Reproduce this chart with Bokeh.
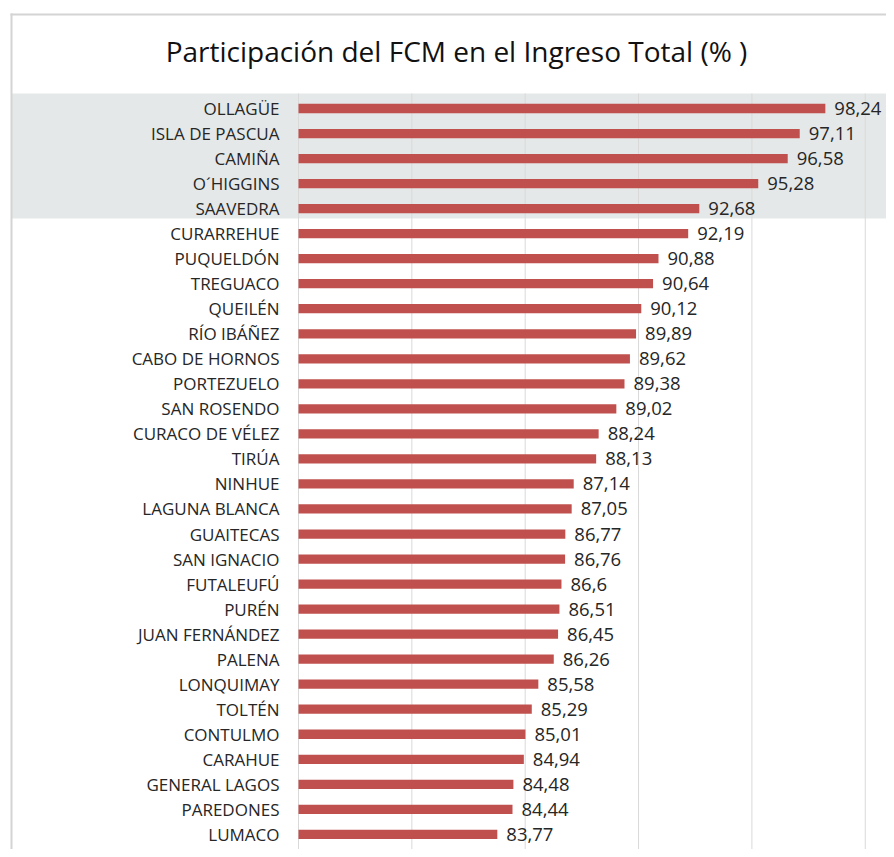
from bokeh.plotting import figure
from bokeh.models import Range1d, BoxAnnotation, Label, ColumnDataSource, Grid
from bokeh.core.properties import value
from bokeh.embed import file_html
from bokeh.resources import INLINE

# ---------------- data ----------------
title_text = "Participación del FCM en el Ingreso Total (% )"
comunas = ["OLLAGÜE", "ISLA DE PASCUA", "CAMIÑA", "O´HIGGINS", "SAAVEDRA",
           "CURARREHUE", "PUQUELDÓN", "TREGUACO", "QUEILÉN", "RÍO IBÁÑEZ",
           "CABO DE HORNOS", "PORTEZUELO", "SAN ROSENDO", "CURACO DE VÉLEZ", "TIRÚA",
           "NINHUE", "LAGUNA BLANCA", "GUAITECAS", "SAN IGNACIO", "FUTALEUFÚ",
           "PURÉN", "JUAN FERNÁNDEZ", "PALENA", "LONQUIMAY", "TOLTÉN",
           "CONTULMO", "CARAHUE", "GENERAL LAGOS", "PAREDONES", "LUMACO"]
participacion = [98.24, 97.11, 96.58, 95.28, 92.68,
                 92.19, 90.88, 90.64, 90.12, 89.89,
                 89.62, 89.38, 89.02, 88.24, 88.13,
                 87.14, 87.05, 86.77, 86.76, 86.6,
                 86.51, 86.45, 86.26, 85.58, 85.29,
                 85.01, 84.94, 84.48, 84.44, 83.77]
grid_ticks = [75, 80, 85, 90, 95, 100]
x_base = 75
highlight_rows = 5

# ---------------- geometry helpers (picture pixel -> data) ----------------
W, H = 886, 849
PX_PER_UNIT = 22.67
BASE_PX = 298
ROW0_PX = 108
ROW_PX = 25.03

def px_x(px):
    return x_base + (px - BASE_PX) / PX_PER_UNIT

def px_y(py):
    return (py - ROW0_PX) / ROW_PX

rows = list(range(len(comunas)))
labels = [f"{v:g}".replace(".", ",") for v in participacion]
src = ColumnDataSource(dict(y=rows, v=participacion, name=comunas, lab=labels))

p = figure(width=W, height=H,
           x_range=Range1d(px_x(0), px_x(W)),
           y_range=Range1d(px_y(H), px_y(0)),
           x_axis_location=None, y_axis_location=None,
           output_backend="svg", toolbar_location=None,
           min_border=0, outline_line_color=None,
           background_fill_color="white", border_fill_color="white")

# remove default grids
p.center = [r for r in p.center if not isinstance(r, Grid)]

# shaded highlight band (lowest layer)
p.add_layout(BoxAnnotation(left=px_x(11), top=px_y(93),
                           bottom=(highlight_rows - 1) + (218 - 208) / ROW_PX,
                           fill_color="#e5e8e8", fill_alpha=1, line_color=None,
                           level="image"))

# vertical gridlines at the tick values, from the top of the plot area down
p.segment(x0=grid_ticks, x1=grid_ticks, y0=px_y(93), y1=px_y(H + 5),
          line_color="#d9d9d9", line_width=1, level="underlay")

# chart border (top and left)
p.add_layout(BoxAnnotation(left=px_x(10), right=px_x(12), top=px_y(13),
                           fill_color="#d4d4d4", fill_alpha=1, line_color=None))
p.add_layout(BoxAnnotation(left=px_x(10), top=px_y(13), bottom=px_y(15),
                           fill_color="#d4d4d4", fill_alpha=1, line_color=None))

p.hbar(y="y", left=x_base, right="v", height=0.37, source=src,
       fill_color="#c0504d", line_color=None)

p.text(x=x_base, y="y", text="name", source=src, x_offset=-19,
       text_align="right", text_baseline="middle",
       text_font=value("Open Sans"), text_font_size="17px", text_color="#262626")

p.text(x="v", y="y", text="lab", source=src, x_offset=9,
       text_align="left", text_baseline="middle",
       text_font=value("Open Sans"), text_font_size="18.5px", text_color="#262626")

p.add_layout(Label(x=px_x(456), y=px_y(50), text=title_text,
                   text_align="center", text_baseline="alphabetic",
                   text_font="Open Sans", text_font_size="28px",
                   text_color="#111111"))

open("out.html", "w").write(file_html(p, INLINE))
